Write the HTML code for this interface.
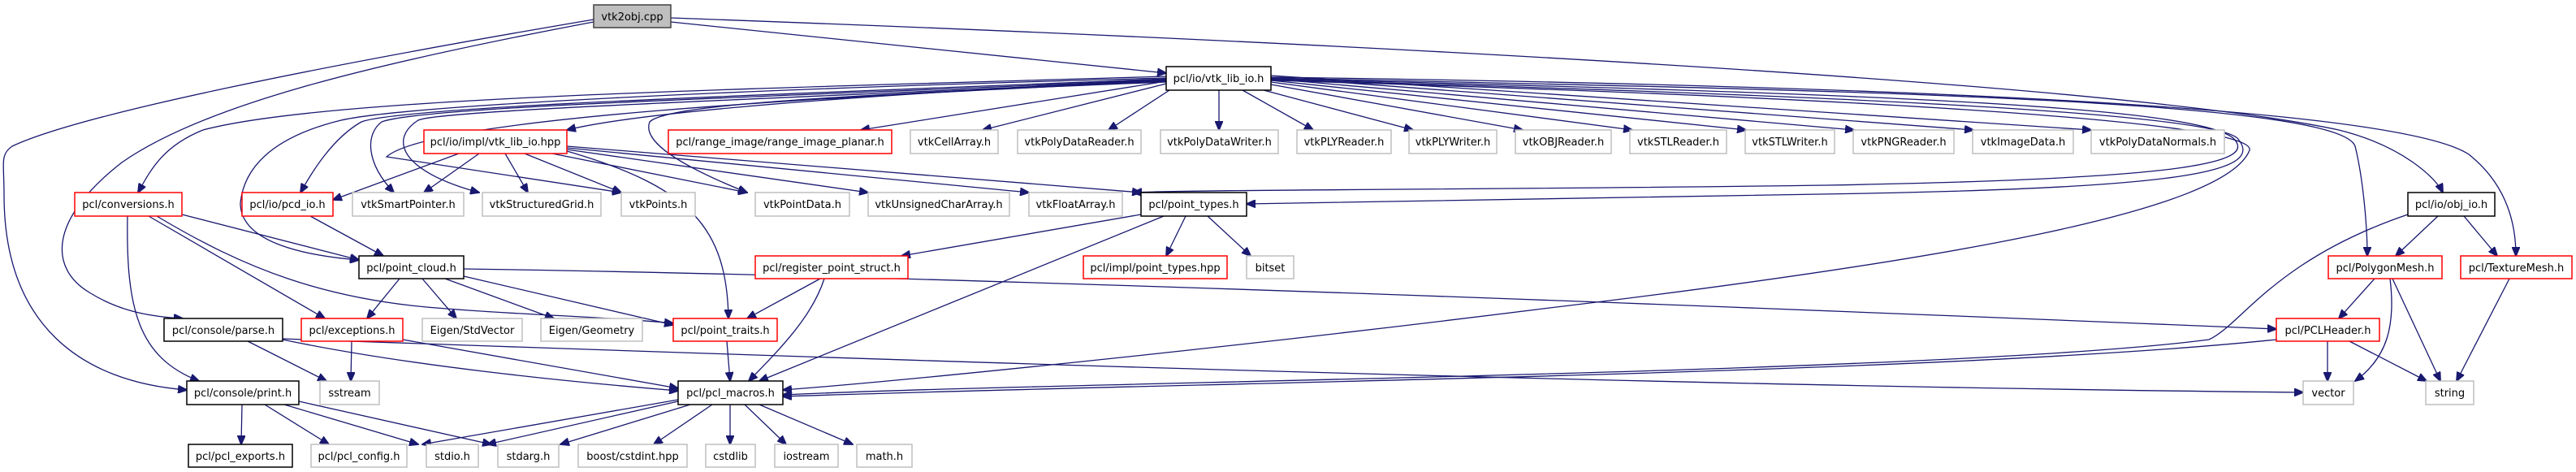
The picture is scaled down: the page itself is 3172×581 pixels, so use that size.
<!DOCTYPE html>
<html><head><meta charset="utf-8"><style>
html,body{margin:0;padding:0;background:#fff;}
svg{display:block;}
text{font-family:"DejaVu Sans","Liberation Sans",sans-serif;font-size:13px;fill:#000;}
.e{fill:none;stroke:#191970;stroke-width:1.3;marker-end:url(#a);}
.g{fill:#fff;stroke:#bfbfbf;stroke-width:1.5;}
.r{fill:#fff;stroke:#ff0000;stroke-width:1.5;}
.b{fill:#fff;stroke:#000;stroke-width:1.5;}
</style></head><body>
<svg width="3172" height="581" viewBox="0 0 3172 581" xmlns="http://www.w3.org/2000/svg">
<defs><marker id="a" markerWidth="12" markerHeight="10" refX="11" refY="5" orient="auto" markerUnits="userSpaceOnUse"><path d="M0,0 L12,5 L0,10 Z" fill="#191970" stroke="#191970"/></marker></defs>

<path class="e" d="M826,27 L1436,90"/>
<path class="e" d="M826,22 C1600,50 2600,100 2880,160 C2960,180 3000,220 3008,237"/>
<path class="e" d="M731,27 C450,80 250,130 150,200 C60,270 60,330 110,360 C150,385 190,390 225,392"/>
<path class="e" d="M731,24 C400,80 100,140 15,180 C0,190 5,200 5,240 C5,400 100,470 230,480"/>

<path class="e" d="M1436,98 C1100,115 800,135 698,160"/>
<path class="e" d="M1436,100 L1060,160"/>
<path class="e" d="M1436,103 L1210,160"/>
<path class="e" d="M1440,111 L1365,160"/>
<path class="e" d="M1501,111 L1501,160"/>
<path class="e" d="M1530,111 L1617,160"/>
<path class="e" d="M1556,111 L1740,160"/>
<path class="e" d="M1565,104 L1875,160"/>
<path class="e" d="M1565,101 L2010,160"/>
<path class="e" d="M1565,99 L2150,160"/>
<path class="e" d="M1565,97 L2283,160"/>
<path class="e" d="M1565,95 L2430,160"/>
<path class="e" d="M1565,93 L2575,160"/>
<path class="e" d="M1436,94 C900,110 400,120 250,160 C200,180 185,210 170,237"/>
<path class="e" d="M1436,96 C900,110 500,130 420,148 C330,170 300,210 296,250 C296,300 380,315 442,320"/>
<path class="e" d="M1436,97 C1000,115 500,130 445,150 C410,170 385,210 370,237"/>
<path class="e" d="M1436,98 C1000,118 520,130 470,150 C450,165 450,200 485,237"/>
<path class="e" d="M1436,99 C1000,120 540,135 515,148 C480,170 490,210 590,237"/>
<path class="e" d="M1436,100 C1000,120 530,145 476,193 L765,237"/>
<path class="e" d="M1436,101 C1000,118 820,130 800,150 C790,175 840,205 920,237"/>
<path class="e" d="M1565,97 C2300,115 2700,130 2750,170 C2780,200 2700,220 2250,228 C1800,234 1500,233 1395,237"/>
<path class="e" d="M1565,98 C2300,118 2720,140 2755,170 C2790,210 2700,230 2300,238 C1900,245 1650,249 1535,251"/>
<path class="e" d="M1565,99 C2300,120 2780,150 2770,185 C2740,260 2400,320 1900,380 C1500,430 1100,470 964,480"/>
<path class="e" d="M1565,96 C2200,110 2880,120 2900,180 C2910,220 2915,280 2915,315"/>
<path class="e" d="M1565,95 C2300,105 2950,130 3040,190 C3090,230 3098,280 3098,315"/>

<path class="e" d="M565,189 L410,246"/>
<path class="e" d="M590,189 L522,237"/>
<path class="e" d="M622,189 L650,237"/>
<path class="e" d="M646,189 L765,237"/>
<path class="e" d="M680,189 L920,237"/>
<path class="e" d="M698,184 L1069,237"/>
<path class="e" d="M698,182 L1267,237"/>
<path class="e" d="M698,180 L1405,237"/>
<path class="e" d="M698,186 C850,230 895,280 897,392"/>
<path class="e" d="M224,264 L442,320"/>
<path class="e" d="M183,266 L400,392"/>
<path class="e" d="M193,266 C300,330 400,370 550,380 C650,388 750,390 829,398"/>
<path class="e" d="M157,266 C155,380 170,440 245,469"/>
<path class="e" d="M382,266 L472,315"/>
<path class="e" d="M492,343 L452,392"/>
<path class="e" d="M520,343 L562,392"/>
<path class="e" d="M548,343 L682,392"/>
<path class="e" d="M571,340 L829,400"/>
<path class="e" d="M571,331 C1200,340 2200,380 2803,405"/>
<path class="e" d="M1405,264 L1110,315"/>
<path class="e" d="M1460,266 L1436,315"/>
<path class="e" d="M1487,266 L1540,315"/>
<path class="e" d="M1433,266 L935,469"/>
<path class="e" d="M1010,343 L920,392"/>
<path class="e" d="M1015,343 C1000,390 960,430 922,469"/>
<path class="e" d="M895,420 L899,469"/>
<path class="e" d="M433,420 L432,469"/>
<path class="e" d="M496,418 L835,478"/>
<path class="e" d="M305,420 L402,469"/>
<path class="e" d="M348,418 C500,450 700,470 835,481"/>
<path class="e" d="M348,417 C1000,440 2000,475 2836,483"/>
<path class="e" d="M298,498 L297,547"/>
<path class="e" d="M326,498 L405,547"/>
<path class="e" d="M350,498 L515,547"/>
<path class="e" d="M368,494 L605,547"/>
<path class="e" d="M835,492 L520,547"/>
<path class="e" d="M835,494 L600,547"/>
<path class="e" d="M850,498 L690,547"/>
<path class="e" d="M877,498 L805,547"/>
<path class="e" d="M899,498 L899,547"/>
<path class="e" d="M917,498 L968,547"/>
<path class="e" d="M935,498 L1050,547"/>
<path class="e" d="M3002,266 L2950,315"/>
<path class="e" d="M3034,266 L3075,315"/>
<path class="e" d="M2965,264 C2800,320 2760,400 2720,418 C2400,460 1300,470 964,486"/>
<path class="e" d="M2924,343 L2880,392"/>
<path class="e" d="M2943,343 C2950,400 2940,440 2900,469"/>
<path class="e" d="M2946,343 L3005,469"/>
<path class="e" d="M3090,343 L3025,469"/>
<path class="e" d="M2866,420 L2866,469"/>
<path class="e" d="M2893,420 L2988,469"/>
<path class="e" d="M2803,418 C2400,460 1500,470 964,488"/>

<rect x="731" y="6" width="95" height="28" fill="#bfbfbf" stroke="#404040" stroke-width="1.5"/><text x="778.5" y="25" text-anchor="middle">vtk2obj.cpp</text>
<rect class="b" x="1436" y="82" width="129" height="29"/><text x="1500.5" y="101" text-anchor="middle">pcl/io/vtk_lib_io.h</text>

<rect class="r" x="522" y="160" width="176" height="29"/><text x="610" y="179" text-anchor="middle">pcl/io/impl/vtk_lib_io.hpp</text>
<rect class="r" x="823" y="160" width="275" height="29"/><text x="960.5" y="179" text-anchor="middle">pcl/range_image/range_image_planar.h</text>
<rect class="g" x="1121" y="160" width="108" height="29"/><text x="1175" y="179" text-anchor="middle">vtkCellArray.h</text>
<rect class="g" x="1253" y="160" width="152" height="29"/><text x="1329" y="179" text-anchor="middle">vtkPolyDataReader.h</text>
<rect class="g" x="1429" y="160" width="145" height="29"/><text x="1501.5" y="179" text-anchor="middle">vtkPolyDataWriter.h</text>
<rect class="g" x="1597" y="160" width="116" height="29"/><text x="1655" y="179" text-anchor="middle">vtkPLYReader.h</text>
<rect class="g" x="1735" y="160" width="108" height="29"/><text x="1789" y="179" text-anchor="middle">vtkPLYWriter.h</text>
<rect class="g" x="1866" y="160" width="118" height="29"/><text x="1925" y="179" text-anchor="middle">vtkOBJReader.h</text>
<rect class="g" x="2007" y="160" width="119" height="29"/><text x="2066.5" y="179" text-anchor="middle">vtkSTLReader.h</text>
<rect class="g" x="2149" y="160" width="110" height="29"/><text x="2204" y="179" text-anchor="middle">vtkSTLWriter.h</text>
<rect class="g" x="2282" y="160" width="124" height="29"/><text x="2344" y="179" text-anchor="middle">vtkPNGReader.h</text>
<rect class="g" x="2429" y="160" width="124" height="29"/><text x="2491" y="179" text-anchor="middle">vtkImageData.h</text>
<rect class="g" x="2575" y="160" width="164" height="29"/><text x="2657" y="179" text-anchor="middle">vtkPolyDataNormals.h</text>

<rect class="r" x="92" y="237" width="132" height="29"/><text x="158" y="256" text-anchor="middle">pcl/conversions.h</text>
<rect class="r" x="298" y="237" width="112" height="29"/><text x="354" y="256" text-anchor="middle">pcl/io/pcd_io.h</text>
<rect class="g" x="434" y="237" width="137" height="29"/><text x="502.5" y="256" text-anchor="middle">vtkSmartPointer.h</text>
<rect class="g" x="594" y="237" width="146" height="29"/><text x="667" y="256" text-anchor="middle">vtkStructuredGrid.h</text>
<rect class="g" x="765" y="237" width="91" height="29"/><text x="810.5" y="256" text-anchor="middle">vtkPoints.h</text>
<rect class="g" x="930" y="237" width="116" height="29"/><text x="988" y="256" text-anchor="middle">vtkPointData.h</text>
<rect class="g" x="1069" y="237" width="174" height="29"/><text x="1156" y="256" text-anchor="middle">vtkUnsignedCharArray.h</text>
<rect class="g" x="1267" y="237" width="115" height="29"/><text x="1324.5" y="256" text-anchor="middle">vtkFloatArray.h</text>
<rect class="b" x="1405" y="237" width="130" height="29"/><text x="1470" y="256" text-anchor="middle">pcl/point_types.h</text>
<rect class="b" x="2965" y="237" width="107" height="29"/><text x="3018.5" y="256" text-anchor="middle">pcl/io/obj_io.h</text>

<rect class="b" x="442" y="315" width="129" height="28"/><text x="506.5" y="334" text-anchor="middle">pcl/point_cloud.h</text>
<rect class="r" x="930" y="315" width="188" height="28"/><text x="1024" y="334" text-anchor="middle">pcl/register_point_struct.h</text>
<rect class="r" x="1334" y="315" width="177" height="28"/><text x="1422.5" y="334" text-anchor="middle">pcl/impl/point_types.hpp</text>
<rect class="g" x="1535" y="315" width="58" height="28"/><text x="1564" y="334" text-anchor="middle">bitset</text>
<rect class="r" x="2867" y="315" width="140" height="28"/><text x="2937" y="334" text-anchor="middle">pcl/PolygonMesh.h</text>
<rect class="r" x="3030" y="315" width="137" height="28"/><text x="3098.5" y="334" text-anchor="middle">pcl/TextureMesh.h</text>

<rect class="b" x="202" y="392" width="146" height="28"/><text x="275" y="411" text-anchor="middle">pcl/console/parse.h</text>
<rect class="r" x="371" y="392" width="125" height="28"/><text x="433.5" y="411" text-anchor="middle">pcl/exceptions.h</text>
<rect class="g" x="520" y="392" width="123" height="28"/><text x="581.5" y="411" text-anchor="middle">Eigen/StdVector</text>
<rect class="g" x="666" y="392" width="125" height="28"/><text x="728.5" y="411" text-anchor="middle">Eigen/Geometry</text>
<rect class="r" x="829" y="392" width="128" height="28"/><text x="893" y="411" text-anchor="middle">pcl/point_traits.h</text>
<rect class="r" x="2803" y="392" width="127" height="28"/><text x="2866.5" y="411" text-anchor="middle">pcl/PCLHeader.h</text>

<rect class="b" x="230" y="469" width="138" height="29"/><text x="299" y="488" text-anchor="middle">pcl/console/print.h</text>
<rect class="g" x="394" y="469" width="73" height="29"/><text x="430.5" y="488" text-anchor="middle">sstream</text>
<rect class="b" x="835" y="469" width="129" height="29"/><text x="899.5" y="488" text-anchor="middle">pcl/pcl_macros.h</text>
<rect class="g" x="2836" y="469" width="62" height="29"/><text x="2867" y="488" text-anchor="middle">vector</text>
<rect class="g" x="2987" y="469" width="59" height="29"/><text x="3016.5" y="488" text-anchor="middle">string</text>

<rect class="b" x="232" y="547" width="128" height="28"/><text x="296" y="566" text-anchor="middle">pcl/pcl_exports.h</text>
<rect class="g" x="383" y="547" width="118" height="28"/><text x="442" y="566" text-anchor="middle">pcl/pcl_config.h</text>
<rect class="g" x="525" y="547" width="64" height="28"/><text x="557" y="566" text-anchor="middle">stdio.h</text>
<rect class="g" x="613" y="547" width="75" height="28"/><text x="650.5" y="566" text-anchor="middle">stdarg.h</text>
<rect class="g" x="712" y="547" width="134" height="28"/><text x="779" y="566" text-anchor="middle">boost/cstdint.hpp</text>
<rect class="g" x="869" y="547" width="61" height="28"/><text x="899.5" y="566" text-anchor="middle">cstdlib</text>
<rect class="g" x="954" y="547" width="78" height="28"/><text x="993" y="566" text-anchor="middle">iostream</text>
<rect class="g" x="1055" y="547" width="68" height="28"/><text x="1089" y="566" text-anchor="middle">math.h</text>
</svg>
</body></html>
